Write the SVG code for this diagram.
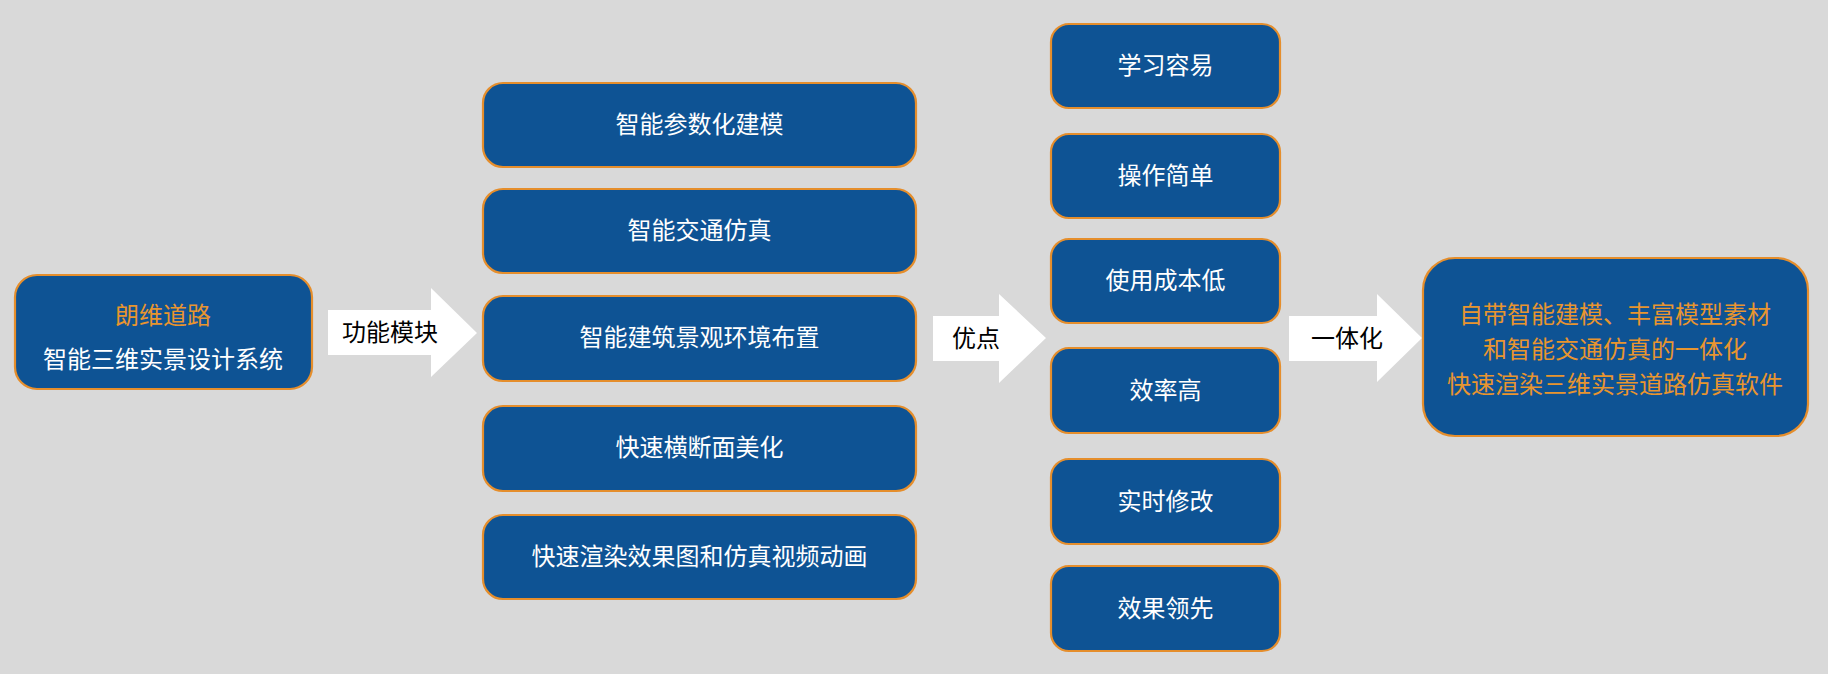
<svg xmlns="http://www.w3.org/2000/svg" width="1828" height="674" viewBox="0 0 1828 674">
<style>
.box{fill:#0e5394;stroke:#e58e2c;stroke-width:2.2}
.t{font-family:"Noto Sans CJK SC","Liberation Sans",sans-serif;font-size:24px;fill:#ffffff;text-anchor:middle}
.o{fill:#e8952f}
.a{fill:#ffffff}
.at{font-family:"Noto Sans CJK SC","Liberation Sans",sans-serif;font-size:24px;fill:#000000;text-anchor:middle}
</style>
<rect width="1828" height="674" fill="#d9d9d9"/>
<g id="connectors">
<polygon class="a" points="328,310 431,310 431,288 477,333 431,377 431,355 328,355"/>
<text class="at" x="390" y="341">功能模块</text>
<polygon class="a" points="933,316 999,316 999,294 1046,338 999,383 999,361 933,361"/>
<text class="at" x="976" y="347">优点</text>
<polygon class="a" points="1289,316 1377,316 1377,294 1422,338 1377,382 1377,361 1289,361"/>
<text class="at" x="1347" y="347">一体化</text>
</g>
<g id="n-system">
<rect class="box" x="15" y="275" width="297" height="114" rx="22"/>
<text class="t o" x="163" y="324">朗维道路</text>
<text class="t" x="163" y="368">智能三维实景设计系统</text>
</g>
<g id="n-m1"><rect class="box" x="483" y="83" width="433" height="84" rx="20"/><text class="t" x="699.5" y="133">智能参数化建模</text></g>
<g id="n-m2"><rect class="box" x="483" y="189" width="433" height="84" rx="20"/><text class="t" x="699.5" y="239">智能交通仿真</text></g>
<g id="n-m3"><rect class="box" x="483" y="296" width="433" height="85" rx="20"/><text class="t" x="699.5" y="346">智能建筑景观环境布置</text></g>
<g id="n-m4"><rect class="box" x="483" y="406" width="433" height="85" rx="20"/><text class="t" x="699.5" y="456">快速横断面美化</text></g>
<g id="n-m5"><rect class="box" x="483" y="515" width="433" height="84" rx="20"/><text class="t" x="699.5" y="565">快速渲染效果图和仿真视频动画</text></g>
<g id="n-a1"><rect class="box" x="1051" y="24" width="229" height="84" rx="18"/><text class="t" x="1165.5" y="74">学习容易</text></g>
<g id="n-a2"><rect class="box" x="1051" y="134" width="229" height="84" rx="18"/><text class="t" x="1165.5" y="184">操作简单</text></g>
<g id="n-a3"><rect class="box" x="1051" y="239" width="229" height="84" rx="18"/><text class="t" x="1165.5" y="289">使用成本低</text></g>
<g id="n-a4"><rect class="box" x="1051" y="348" width="229" height="85" rx="18"/><text class="t" x="1165.5" y="399">效率高</text></g>
<g id="n-a5"><rect class="box" x="1051" y="459" width="229" height="85" rx="18"/><text class="t" x="1165.5" y="510">实时修改</text></g>
<g id="n-a6"><rect class="box" x="1051" y="566" width="229" height="85" rx="18"/><text class="t" x="1165.5" y="617">效果领先</text></g>
<g id="n-result">
<rect class="box" x="1423" y="258" width="385" height="178" rx="32"/>
<text class="t o" x="1615" y="323">自带智能建模、丰富模型素材</text>
<text class="t o" x="1615" y="358">和智能交通仿真的一体化</text>
<text class="t o" x="1615" y="393">快速渲染三维实景道路仿真软件</text>
</g>
</svg>
